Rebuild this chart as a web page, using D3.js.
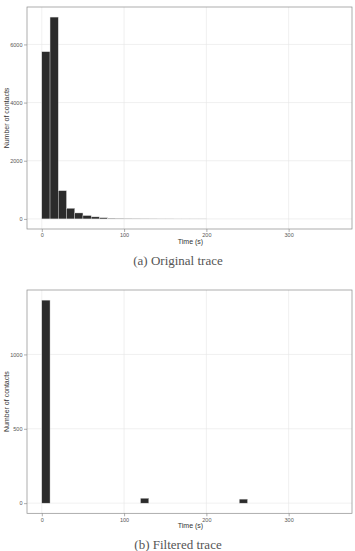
<!DOCTYPE html>
<html>
<head>
<meta charset="utf-8">
<script src="https://cdn.jsdelivr.net/npm/d3@7"></script>
<style>
  body { margin: 0; background: #fff; }
  svg { display: block; }
  .tick text { font-family: "Liberation Sans", Arial, sans-serif; font-size: 5.5px; fill: #555; }
  .tick line { stroke: #777; stroke-width: 0.6; }
</style>
</head>
<body>
<div id="chart"></div>
<script>
// bins are 10 s wide, starting at 0
const binWidth = 10;
const originalCounts = [5750, 6940, 970, 365, 205, 115, 70, 40, 22, 14, 9, 6, 4, 3, 2, 2, 1, 1, 1, 1];
const filteredBins = [0, 120, 240];
const filteredCounts = [1365, 33, 27];
const xTicks = [0, 100, 200, 300];
const yTicksOriginal = [0, 2000, 4000, 6000];
const yTicksFiltered = [0, 500, 1000];
const captions = ["(a) Original trace", "(b) Filtered trace"];

class Histo {
  constructor(config) {
    this.config = config;
    this.svg = config.svg;
    this.g = this.svg.append('g');
    this.createScales();
    this.renderGrid();
    this.renderBars();
    this.renderAxis();
    this.renderLabels();
  }

  createScales() {
    let c = this.config;
    let maxY = d3.max(c.bars, d => d.n);
    let pad = maxY * 0.05;
    this.xScale = d3.scaleLinear().domain([-18, 377]).range([c.left, c.right]);
    this.yScale = d3.scaleLinear().domain([-pad, maxY + pad]).range([c.bottom, c.top]);
  }

  renderGrid() {
    let c = this.config;
    this.g.selectAll('line.gx')
      .data(xTicks).enter().append('line')
      .attr('x1', d => this.xScale(d)).attr('x2', d => this.xScale(d))
      .attr('y1', c.top).attr('y2', c.bottom)
      .attr('stroke', '#e6e6e6').attr('stroke-width', 0.6);

    this.g.selectAll('line.gy')
      .data(c.yTicks).enter().append('line')
      .attr('y1', d => this.yScale(d)).attr('y2', d => this.yScale(d))
      .attr('x1', c.left).attr('x2', c.right)
      .attr('stroke', '#e6e6e6').attr('stroke-width', 0.6);
  }

  renderBars() {
    this.g.selectAll('rect.bar')
      .data(this.config.bars.filter(d => d.n > 0))
      .enter()
      .append('rect')
      .attr('x', d => this.xScale(d.x0))
      .attr('width', d => this.xScale(d.x0 + binWidth) - this.xScale(d.x0))
      .attr('y', d => this.yScale(d.n))
      .attr('height', d => this.yScale(0) - this.yScale(d.n))
      .attr('fill', '#2b2b2b')
      .attr('stroke', '#dcdcdc')
      .attr('stroke-width', 0.4);
  }

  renderAxis() {
    let c = this.config;
    let xAxis = d3.axisBottom(this.xScale).tickValues(xTicks).tickFormat(d3.format('d')).tickSize(3).tickPadding(1.5);
    let yAxis = d3.axisLeft(this.yScale).tickValues(c.yTicks).tickFormat(d3.format('d')).tickSize(3).tickPadding(1.5);

    this.g.append('g')
      .attr('transform', `translate(0,${c.bottom})`)
      .call(xAxis)
      .call(g => g.select('.domain').remove());

    this.g.append('g')
      .attr('transform', `translate(${c.left},0)`)
      .call(yAxis)
      .call(g => g.select('.domain').remove());

    this.g.append('rect')
      .attr('x', c.left).attr('y', c.top)
      .attr('width', c.right - c.left).attr('height', c.bottom - c.top)
      .attr('fill', 'none')
      .attr('stroke', '#8a8a8a')
      .attr('stroke-width', 0.7);
  }

  renderLabels() {
    let c = this.config;
    this.g.append('text')
      .attr('text-anchor', 'middle')
      .attr('font-family', '"Liberation Sans", Arial, sans-serif')
      .attr('font-size', 7)
      .attr('fill', '#333')
      .attr('x', (c.left + c.right) / 2 + 1)
      .attr('y', c.bottom + 14.5)
      .text('Time (s)');

    this.g.append('text')
      .attr('text-anchor', 'middle')
      .attr('font-family', '"Liberation Sans", Arial, sans-serif')
      .attr('font-size', 7)
      .attr('fill', '#333')
      .attr('transform', `translate(9,${(c.top + c.bottom) / 2}) rotate(-90)`)
      .text('Number of contacts');

    this.g.append('text')
      .attr('text-anchor', 'middle')
      .attr('font-family', '"Liberation Serif", "DejaVu Serif", serif')
      .attr('font-size', 13)
      .attr('fill', '#555')
      .attr('x', 178)
      .attr('y', c.bottom + 36)
      .text(c.caption);
  }
}

function main() {
  let svg = d3.select('#chart')
    .append('svg')
    .attr('width', 355)
    .attr('height', 551);

  new Histo({
    svg: svg, left: 27, right: 352, top: 7, bottom: 229,
    bars: originalCounts.map((n, i) => ({ x0: i * binWidth, n: n })),
    yTicks: yTicksOriginal,
    caption: captions[0]
  });

  new Histo({
    svg: svg, left: 27, right: 352, top: 290, bottom: 513.3,
    bars: filteredBins.map((x0, i) => ({ x0: x0, n: filteredCounts[i] })),
    yTicks: yTicksFiltered,
    caption: captions[1]
  });
}

main();
</script>
</body>
</html>
